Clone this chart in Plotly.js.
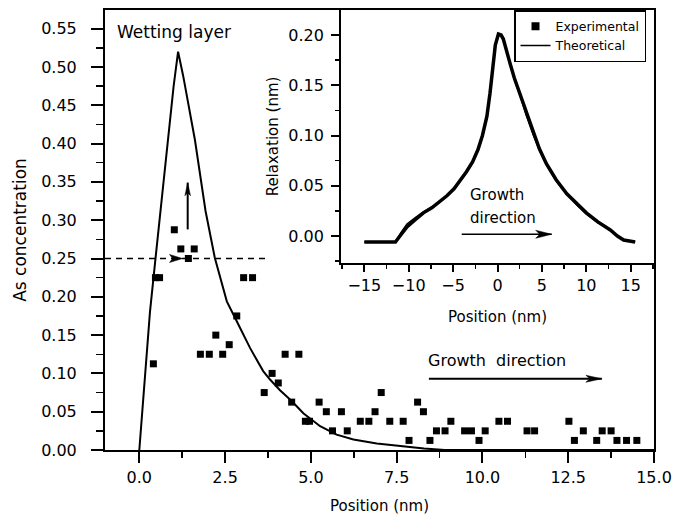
<!DOCTYPE html>
<html>
<head>
<meta charset="utf-8">
<script src="https://cdn.plot.ly/plotly-3.0.1.min.js"></script>
<style>html,body{margin:0;padding:0;background:#fff;}#chart{width:674px;height:519px;}</style>
</head>
<body>
<div id="chart"></div>
<script>
// ---- Main panel: experimental As concentration (squares) ----
const expPosition = [0.41, 0.47, 0.59, 1.02, 1.21, 1.43, 1.60, 1.78, 2.04, 2.23, 2.43, 2.62, 2.84, 3.04, 3.30,
  3.64, 3.87, 4.05, 4.25, 4.44, 4.65, 4.84, 4.96, 5.24, 5.45, 5.63, 5.89, 6.06, 6.44, 6.69, 6.87, 7.05,
  7.30, 7.69, 7.86, 8.11, 8.28, 8.47, 8.66, 8.91, 9.08, 9.48, 9.68, 9.90, 10.08, 10.48, 10.73, 11.30, 11.52,
  12.52, 12.68, 12.94, 13.33, 13.49, 13.75, 13.92, 14.20, 14.50];
const expConcentration = [0.1125, 0.225, 0.225, 0.2875, 0.2625, 0.25, 0.2625, 0.125, 0.125, 0.15, 0.125, 0.1375, 0.175, 0.225, 0.225,
  0.075, 0.1, 0.0875, 0.125, 0.0625, 0.125, 0.0375, 0.0375, 0.0625, 0.05, 0.025, 0.05, 0.025, 0.0375, 0.0375, 0.05, 0.075,
  0.0375, 0.0375, 0.0125, 0.0625, 0.05, 0.0125, 0.025, 0.025, 0.0375, 0.025, 0.025, 0.0125, 0.025, 0.0375, 0.0375, 0.025, 0.025,
  0.0375, 0.0125, 0.025, 0.0125, 0.025, 0.025, 0.0125, 0.0125, 0.0125];

// ---- Main panel: theoretical profile ----
const theoPosition = [0, 0.17, 0.31, 0.46, 0.60, 0.72, 0.86, 1.00, 1.13, 1.28, 1.62, 1.93, 2.20, 2.55, 2.84,
  3.23, 3.61, 3.81, 4.10, 4.44, 4.78, 5.27, 5.75, 6.24, 6.92, 7.60, 8.30, 8.90, 15.0];
const theoConcentration = [0, 0.10, 0.18, 0.245, 0.305, 0.36, 0.42, 0.475, 0.52, 0.488, 0.405, 0.312, 0.251, 0.194, 0.168,
  0.133, 0.103, 0.092, 0.078, 0.064, 0.048, 0.031, 0.020, 0.0137, 0.0085, 0.005, 0.002, 0, 0];

// ---- Inset: relaxation profile ----
const insetPosition = [-15, -11.5, -10.9, -10.2, -9.3, -8.35, -7.4, -6.5, -5.7, -4.9, -4.2, -3.5, -2.8, -2.2, -1.7,
  -1.2, -0.85, -0.55, -0.25, 0.1, 0.4, 0.65, 1.0, 1.4, 1.9, 2.5, 3.2, 4.0, 4.7, 5.5, 6.6, 7.8, 8.9, 10.0,
  11.3, 12.7, 13.5, 14.2, 15.5];
const insetExperimental = [-0.006, -0.006, 0.001, 0.009, 0.016, 0.023, 0.028, 0.034, 0.040, 0.047, 0.055, 0.064, 0.074, 0.086, 0.100,
  0.119, 0.142, 0.168, 0.190, 0.201, 0.200, 0.196, 0.186, 0.172, 0.157, 0.142, 0.122, 0.102, 0.087, 0.072, 0.056, 0.042, 0.032, 0.023,
  0.014, 0.006, 0.000, -0.004, -0.006];
const insetTheoretical = [-0.006, -0.006, 0.003, 0.012, 0.018, 0.024, 0.029, 0.034, 0.040, 0.047, 0.055, 0.063, 0.073, 0.085, 0.099,
  0.118, 0.141, 0.167, 0.189, 0.200, 0.199, 0.195, 0.185, 0.171, 0.156, 0.141, 0.121, 0.101, 0.086, 0.071, 0.055, 0.042, 0.031, 0.022,
  0.013, 0.006, 0.000, -0.004, -0.006];

// ---- Tick labels ----
const mainXTicks = [0, 2.5, 5, 7.5, 10, 12.5, 15];
const mainXTickText = ['0.0', '2.5', '5.0', '7.5', '10.0', '12.5', '15.0'];
const insetXTicks = [-15, -10, -5, 0, 5, 10, 15];
const insetXTickText = ['\u221215', '\u221210', '\u22125', '0', '5', '10', '15'];

// ---- Annotation anchors ----
const wettingLabel = {x: -0.7, y: 0.546};
const upArrow = {x: 1.41, yFrom: 0.288, yTo: 0.349};
const refLine = {xFrom: -1, xTo: 3.75, y: 0.25, headX: 1.26};
const mainGrowth = {textX: 8.36, textY: 0.117, xFrom: 8.44, xTo: 13.48, y: 0.093};
const insetGrowth = {textX: -3.3, textY1: 0.0408, textY2: 0.0176, xFrom: -4.03, xTo: 6.1, y: 0.0017};

const FONT = 'DejaVu Sans';

const traces = [
  {x: theoPosition, y: theoConcentration, xaxis: 'x', yaxis: 'y', mode: 'lines',
   line: {color: '#000', width: 2}, showlegend: false, hoverinfo: 'skip'},
  {x: expPosition, y: expConcentration, xaxis: 'x', yaxis: 'y', mode: 'markers',
   marker: {symbol: 'square', size: 7, color: '#000'}, showlegend: false},
  {x: insetPosition, y: insetExperimental, xaxis: 'x2', yaxis: 'y2', mode: 'lines',
   line: {color: '#000', width: 3.5}, showlegend: false, legendgroup: 'exp'},
  {x: [null], y: [null], xaxis: 'x2', yaxis: 'y2', mode: 'markers', name: 'Experimental', legendgroup: 'exp',
   marker: {symbol: 'square', size: 8, color: '#000'}},
  {x: insetPosition, y: insetTheoretical, xaxis: 'x2', yaxis: 'y2', mode: 'lines', name: 'Theoretical',
   line: {color: '#000', width: 1.5}}
];

const axBase = {showgrid: false, zeroline: false, showline: true, linecolor: '#000', linewidth: 2,
  ticks: 'outside', tickcolor: '#000', tickwidth: 2, tickfont: {family: FONT, size: 16, color: '#000'}};

function head(xref, yref, xa, ya, path) {
  return {type: 'path', xref: xref, yref: yref, xsizemode: 'pixel', ysizemode: 'pixel',
    xanchor: xa, yanchor: ya, path: path, fillcolor: '#000', line: {color: '#000', width: 0.5}};
}

const shapes = [
  {type: 'line', xref: 'x', yref: 'y', x0: refLine.xFrom, x1: refLine.xTo, y0: refLine.y, y1: refLine.y,
   line: {color: '#000', width: 1.5, dash: '6px,5px'}},
  head('x', 'y', refLine.headX, refLine.y, 'M0,0 L-13,-4 L-10,0 L-13,4 Z'),
  {type: 'line', xref: 'x', yref: 'y', x0: upArrow.x, x1: upArrow.x, y0: upArrow.yFrom, y1: upArrow.yTo,
   line: {color: '#000', width: 2}},
  head('x', 'y', upArrow.x, upArrow.yTo, 'M0,0 L-2.8,-13 L0,-10 L2.8,-13 Z'),
  {type: 'line', xref: 'x', yref: 'y', x0: mainGrowth.xFrom, x1: mainGrowth.xTo, y0: mainGrowth.y, y1: mainGrowth.y,
   line: {color: '#000', width: 2}},
  head('x', 'y', mainGrowth.xTo, mainGrowth.y, 'M0,0 L-16,-3.5 L-12,0 L-16,3.5 Z'),
  {type: 'line', xref: 'x2', yref: 'y2', x0: insetGrowth.xFrom, x1: insetGrowth.xTo, y0: insetGrowth.y, y1: insetGrowth.y,
   line: {color: '#000', width: 1.5}},
  head('x2', 'y2', insetGrowth.xTo, insetGrowth.y, 'M0,0 L-16,-4 L-12,0 L-16,4 Z')
];

const annotations = [
  {xref: 'x', yref: 'y', x: wettingLabel.x, y: wettingLabel.y, text: 'Wetting layer', showarrow: false,
   xanchor: 'left', yanchor: 'middle', font: {family: FONT, size: 17, color: '#000'}},
  {xref: 'x', yref: 'y', x: mainGrowth.textX, y: mainGrowth.textY, text: 'Growth\u00a0 direction', showarrow: false,
   xanchor: 'left', yanchor: 'middle', font: {family: FONT, size: 16, color: '#000'}},
  {xref: 'x2', yref: 'y2', x: insetGrowth.textX, y: insetGrowth.textY1, text: 'Growth', showarrow: false,
   xanchor: 'left', yanchor: 'middle', font: {family: FONT, size: 15, color: '#000'}},
  {xref: 'x2', yref: 'y2', x: insetGrowth.textX, y: insetGrowth.textY2, text: 'direction', showarrow: false,
   xanchor: 'left', yanchor: 'middle', font: {family: FONT, size: 15, color: '#000'}}
];

const layout = {
  width: 674, height: 519,
  margin: {l: 105, r: 20, t: 10, b: 69, pad: 0},
  paper_bgcolor: '#fff', plot_bgcolor: '#fff',
  font: {family: FONT, size: 16, color: '#000'},
  showlegend: true,
  legend: {x: 0.745, y: 1, xanchor: 'left', yanchor: 'top', bgcolor: '#fff', bordercolor: '#000', borderwidth: 1.5,
    font: {family: FONT, size: 12.5, color: '#000'}, traceorder: 'normal', tracegroupgap: 0},
  xaxis: Object.assign({}, axBase, {
    domain: [0, 1], anchor: 'y', range: [-1, 15], mirror: true,
    tickvals: mainXTicks, ticktext: mainXTickText, ticklen: 11, ticklabelstandoff: 1,
    minor: {ticks: 'outside', dtick: 1.25, tick0: 0, ticklen: 6, tickwidth: 1.5, tickcolor: '#000', showgrid: false},
    title: {text: 'Position (nm)', font: {family: FONT, size: 15, color: '#000'}, standoff: 14}
  }),
  yaxis: Object.assign({}, axBase, {
    domain: [0, 1], anchor: 'x', range: [0, 0.5744], mirror: true,
    dtick: 0.05, tick0: 0, tickformat: '.2f', ticklen: 12, ticklabelstandoff: 11,
    minor: {ticks: 'outside', dtick: 0.025, tick0: 0, ticklen: 7, tickwidth: 1.5, tickcolor: '#000', showgrid: false},
    title: {text: 'As concentration', font: {family: FONT, size: 17, color: '#000'}, standoff: 10}
  }),
  xaxis2: Object.assign({}, axBase, {
    domain: [0.43, 1], anchor: 'y2', range: [-17.62, 17.62], mirror: true,
    tickvals: insetXTicks, ticktext: insetXTickText, ticklen: 7, ticklabelstandoff: 0,
    minor: {ticks: 'outside', dtick: 2.5, tick0: 0, ticklen: 4, tickwidth: 1.5, tickcolor: '#000', showgrid: false},
    title: {text: 'Position (nm)', font: {family: FONT, size: 15, color: '#000'}, standoff: 17}
  }),
  yaxis2: Object.assign({}, axBase, {
    domain: [0.425, 1], anchor: 'x2', range: [-0.0269, 0.2249], mirror: true,
    dtick: 0.05, tick0: 0, tickformat: '.2f', ticklen: 8, ticklabelstandoff: 4,
    minor: {ticks: 'outside', dtick: 0.025, tick0: 0, ticklen: 4, tickwidth: 1.5, tickcolor: '#000', showgrid: false},
    title: {text: 'Relaxation (nm)', font: {family: FONT, size: 15, color: '#000'}, standoff: 6}
  }),
  shapes: shapes,
  annotations: annotations
};

Plotly.newPlot('chart', traces, layout, {displayModeBar: false, staticPlot: true});
</script>
</body>
</html>
